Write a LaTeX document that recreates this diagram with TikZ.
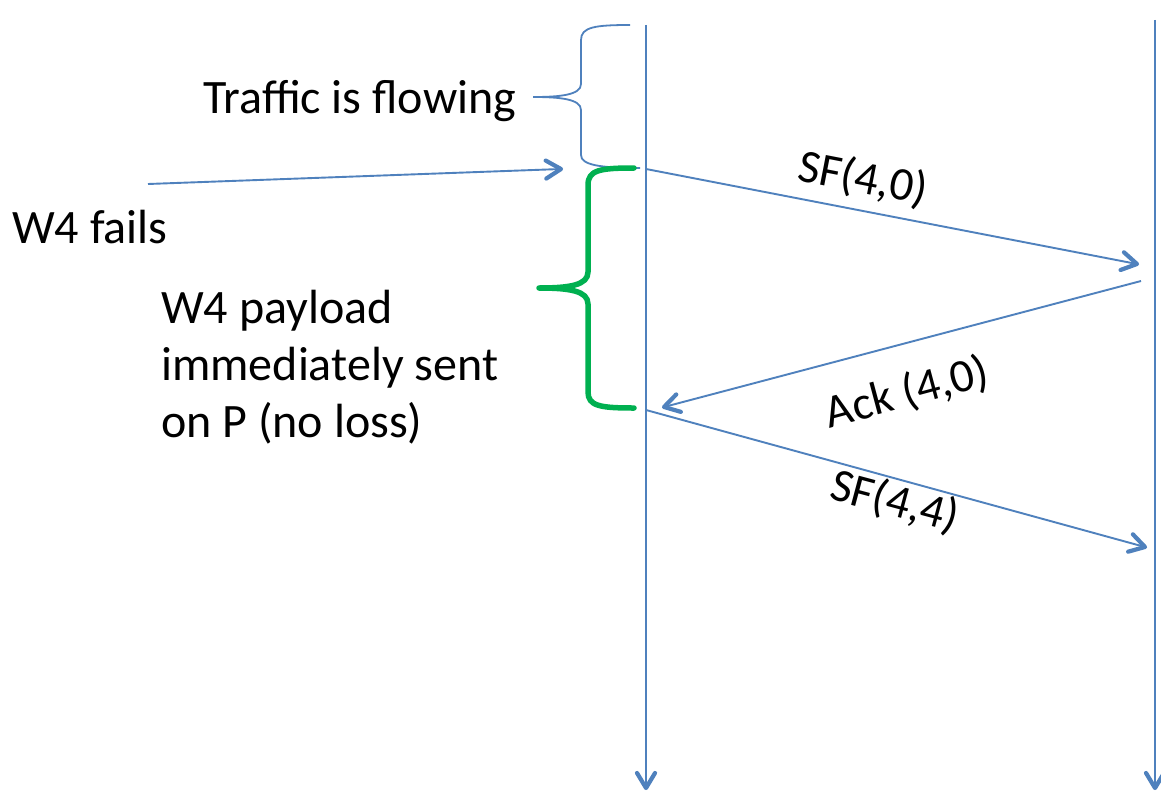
\documentclass[tikz,border=0pt]{standalone}
\usepackage{fontspec}
\setmainfont{Carlito}
\usetikzlibrary{decorations.markings}
\definecolor{lineblue}{RGB}{79,129,189}
\definecolor{bracegreen}{RGB}{0,176,80}
\tikzset{
  seq/.style={draw=lineblue, line width=1.9pt,
    postaction={decorate, decoration={markings,
      mark=at position 1 with {\draw[lineblue, line width=4.2pt, line cap=round, line join=round]
        (-15pt,-9pt) -- (0,0) -- (-15pt,9pt);}}}},
  lifeline/.style={seq},
  thinbrace/.style={draw=lineblue, line width=1.8pt},
  greenbrace/.style={draw=bracegreen, line width=5.5pt, line cap=round, line join=round},
  lbl/.style={inner sep=0pt, font=\fontsize{48}{57}\selectfont, anchor=base west, align=left},
  msg/.style={inner sep=0pt, font=\fontsize{47}{55}\selectfont}
}
\begin{document}
\begin{tikzpicture}[x=1pt,y=-1pt]
\useasboundingbox[fill=white] (0,0) rectangle (1161,792);
% lifelines
\coordinate (Ltop) at (646,25);
\coordinate (Lbot) at (646,788);
\coordinate (Rtop) at (1155,20);
\coordinate (Rbot) at (1155,788);
\draw[lifeline] (Ltop) -- (Lbot);
\draw[lifeline] (Rtop) -- (Rbot);
% message end points
\coordinate (m1s) at (646,169);
\coordinate (m1e) at (1137,264);
\coordinate (m2s) at (1141,281);
\coordinate (m2e) at (664,407);
\coordinate (m3s) at (646,410);
\coordinate (m3e) at (1145,547);
\draw[seq] (m1s) -- (m1e);
\draw[seq] (m2s) -- (m2e);
\draw[seq] (m3s) -- (m3e);
% fail arrow
\coordinate (fs) at (148,184);
\coordinate (fe) at (561,169);
\draw[seq] (fs) -- (fe);
% blue brace
\draw[thinbrace] (630,25) .. controls (595,25) and (581,27) .. (581,40) -- (581,84)
  .. controls (581,95) and (560,97) .. (533,97)
  .. controls (560,97) and (581,99) .. (581,110) -- (581,155)
  .. controls (581,165) and (600,168) .. (640,168);
% green brace
\draw[greenbrace] (634,168) .. controls (600,168) and (588,170) .. (588,185) -- (588,272)
  .. controls (588,285) and (570,288) .. (539,288)
  .. controls (570,288) and (588,291) .. (588,304) -- (588,392)
  .. controls (588,406) and (600,408) .. (634,408);
% labels
\node[lbl] (traffic) at (203,113) {Traffic is flowing};
\node[lbl] (fails) at (12,243) {W4 fails};
\node[lbl] (payload) at (161,437) {W4 payload\\immediately sent\\on P (no loss)};
\node[msg, rotate=-11] (sf1) at (863,179) {SF(4,0)};
\node[msg, rotate=15] (ack) at (907,393) {Ack (4,0)};
\node[msg, rotate=-15] (sf2) at (895,502) {SF(4,4)};
\end{tikzpicture}
\end{document}
